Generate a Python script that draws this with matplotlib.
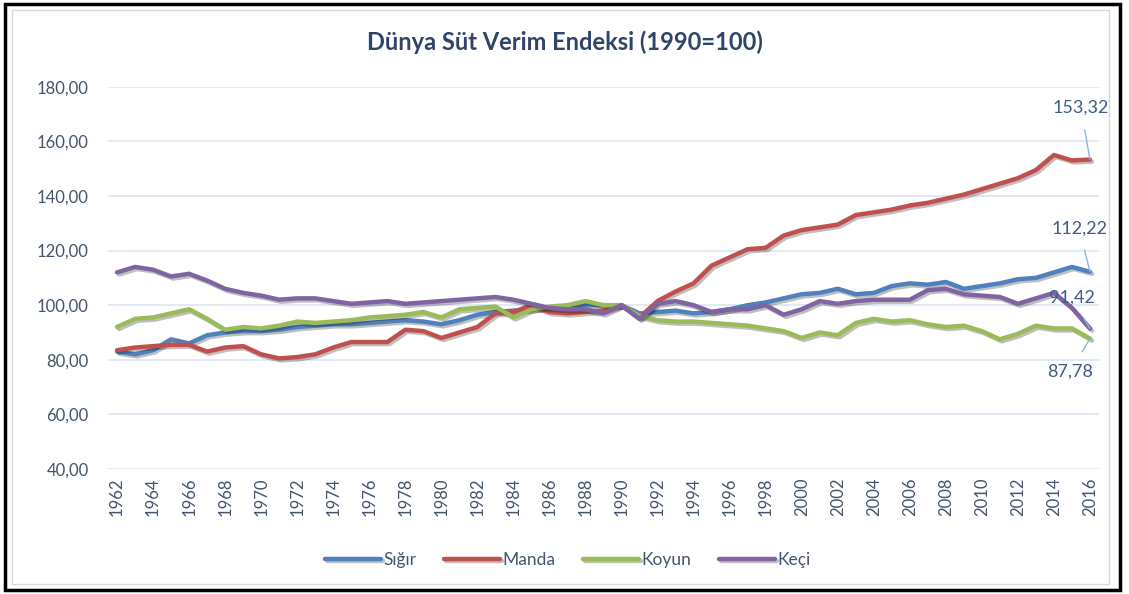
import numpy as np
import matplotlib
matplotlib.use("Agg")
import matplotlib.pyplot as plt
import matplotlib.patheffects as pe
from matplotlib.patches import Rectangle

plt.rcParams['font.family'] = ['Lato', 'DejaVu Sans']

# veriler (grafikten okunan yaklaşık değerler)
years = list(range(1962, 2017))

sigir = [83, 82, 83.5, 87.5, 86, 89, 90, 90.5, 90.5, 91, 92, 92.5, 93, 93, 93.5,
         94, 94.5, 94, 93, 94.5, 96.5, 97.5, 98, 98.5, 99, 99, 100, 100, 100,
         97, 97.5, 98, 97, 97.5, 98.5, 100, 101, 102.5, 104, 104.5, 106, 104,
         104.5, 107, 108, 107.5, 108.5, 106, 107, 108, 109.5, 110, 112, 114, 112.22]

manda = [83.5, 84.5, 85, 85.5, 85.5, 83, 84.5, 85, 82, 80.5, 81, 82, 84.5, 86.5,
         86.5, 86.5, 91, 90.5, 88, 90, 92, 97, 97.5, 100, 97.5, 97, 97.5, 98, 100,
         95.5, 101.5, 105, 108, 114.5, 117.5, 120.5, 121, 125.5, 127.5, 128.5,
         129.5, 133, 134, 135, 136.5, 137.5, 139, 140.5, 142.5, 144.5, 146.5,
         149.5, 155, 153, 153.32]

koyun = [92, 95, 95.5, 97, 98.5, 95, 91, 92, 91.5, 92.5, 94, 93.5, 94, 94.5, 95.5,
         96, 96.5, 97.5, 95.5, 98.5, 99, 99.5, 95.5, 98.5, 99.5, 100, 101.5, 100,
         100, 96, 94.5, 94, 94, 93.5, 93, 92.5, 91.5, 90.5, 88, 90, 89, 93.5, 95,
         94, 94.5, 93, 92, 92.5, 90.5, 87.5, 89.5, 92.5, 91.5, 91.5, 87.78]

keci = [112, 114, 113, 110.5, 111.5, 109, 106, 104.5, 103.5, 102, 102.5, 102.5,
        101.5, 100.5, 101, 101.5, 100.5, 101, 101.5, 102, 102.5, 103, 102, 100.5,
        99, 98.5, 98.5, 97, 100, 95, 100.5, 101.5, 100, 97.5, 98.5, 98.5, 100,
        96.5, 98.5, 101.5, 100.5, 101.5, 102, 102, 102, 105.5, 106, 104, 103.5,
        103, 100.5, 102.5, 104.5, 99, 91.42]

seriler = [("Sığır", sigir, "#4F81BD"),
           ("Manda", manda, "#C0504D"),
           ("Koyun", koyun, "#9BBB59"),
           ("Keçi", keci, "#8064A2")]

yazi_renk = "#44546A"
baslik_renk = "#2F4468"

fig = plt.figure(figsize=(11.29, 5.94), dpi=100)
ax = fig.add_axes([0.0957, 0.2104, 0.8777, 0.6436])

golge = [pe.SimpleLineShadow(offset=(1.5, -1.5), shadow_color="k", alpha=0.25),
         pe.Normal()]

for ad, vals, renk in seriler:
    ax.plot(years, vals, color=renk, lw=3.2, label=ad,
            solid_capstyle="round", path_effects=golge)

ax.set_xlim(1961.5, 2016.5)
ax.set_ylim(40, 180)
ax.set_yticks(np.arange(40, 181, 20))
ax.set_yticklabels([f"{v:.2f}".replace(".", ",") for v in np.arange(40, 181, 20)])
ax.set_xticks(years[::2])
ax.set_xticklabels([str(y) for y in years[::2]], rotation=90)
ax.tick_params(axis="both", length=0, labelsize=12, colors=yazi_renk)
ax.tick_params(axis="y", pad=14)
ax.tick_params(axis="x", pad=6)
ax.grid(axis="y", color="#DCE6F2", lw=1.2)
ax.set_axisbelow(True)
for s in ax.spines.values():
    s.set_visible(False)

fig.text(0.5, 0.929, "Dünya Süt Verim Endeksi (1990=100)", ha="center", va="center",
         fontsize=17, fontweight="bold", color=baslik_renk)

# son değer etiketleri
etiket_renk = "#3E5C87"
lider = "#8DB3E2"
etiketler = [("153,32", manda[-1], 2015.5, 172.2),
             ("112,22", sigir[-1], 2015.4, 128.2),
             ("91,42", keci[-1], 2015.0, 102.6),
             ("87,78", koyun[-1], 2014.9, 75.5)]
for metin, son, tx, ty in etiketler:
    ax.annotate(metin, xy=(2016, son), xytext=(tx, ty),
                ha="center", va="center", fontsize=13, color=etiket_renk,
                arrowprops=dict(arrowstyle="-", color=lider, lw=1, shrinkA=8, shrinkB=0))

leg = fig.legend(loc="center", bbox_to_anchor=(0.503, 0.057), ncol=4, frameon=False,
                 fontsize=12.5, handlelength=3.2, handletextpad=0.15, columnspacing=1.6)
for t in leg.get_texts():
    t.set_color(yazi_renk)
for h in leg.get_lines():
    h.set_linewidth(3.2)
    h.set_solid_capstyle("round")

# çerçeveler
fig.patches.append(Rectangle((0.011, 0.017), 0.971, 0.966, transform=fig.transFigure,
                             fill=False, ec="#D9D9D9", lw=1))
fig.patches.append(Rectangle((0.004, 0.006), 0.988, 0.988, transform=fig.transFigure,
                             fill=False, ec="black", lw=2.5))

fig.savefig("out.png", dpi=100, facecolor="white")
